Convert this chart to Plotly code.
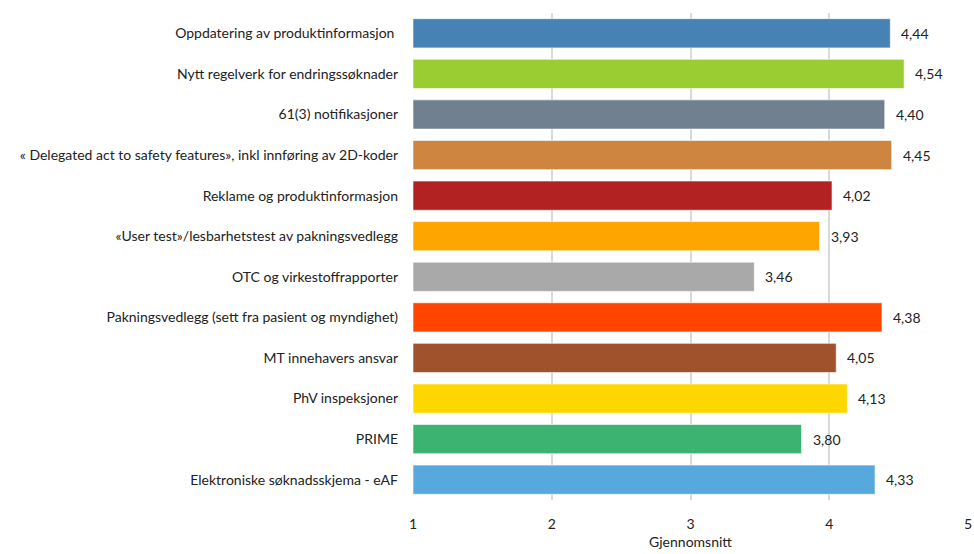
import plotly.graph_objects as go

categories = [
    "Oppdatering av produktinformasjon\u00a0",
    "Nytt regelverk for endringssøknader",
    "61(3) notifikasjoner",
    "« Delegated act to safety features», inkl innføring av 2D-koder",
    "Reklame og produktinformasjon",
    "«User test»/lesbarhetstest av pakningsvedlegg",
    "OTC og virkestoffrapporter",
    "Pakningsvedlegg (sett fra pasient og myndighet)",
    "MT innehavers ansvar",
    "PhV inspeksjoner",
    "PRIME",
    "Elektroniske søknadsskjema - eAF",
]
values = [4.44, 4.54, 4.40, 4.45, 4.02, 3.93, 3.46, 4.38, 4.05, 4.13, 3.80, 4.33]
colors = [
    "#4682B4", "#9ACD32", "#708090", "#CD853F", "#B22222", "#FFA500",
    "#A9A9A9", "#FF4500", "#A0522D", "#FFD700", "#3CB371", "#56A8DD",
]
tick_vals = [1, 2, 3, 4, 5]
x_title = "Gjennomsnitt"

labels = [f"{v:.2f}".replace(".", ",") for v in values]

fig = go.Figure(
    go.Bar(
        y=categories,
        x=[v - 1 for v in values],
        base=1,
        orientation="h",
        marker=dict(color=colors, line=dict(color="rgba(255,255,255,0.6)", width=1)),
        width=0.72,
        hoverinfo="skip",
    )
)

# value labels to the right of each bar
for cat, v, lab in zip(categories, values, labels):
    fig.add_annotation(
        x=v, y=cat, text=lab, showarrow=False,
        xanchor="left", xshift=9,
        font=dict(family="Lato", size=14, color="#222222"),
    )

fig.update_layout(
    width=974,
    height=554,
    margin=dict(l=413, r=6, t=13, b=54, autoexpand=False),
    paper_bgcolor="white",
    plot_bgcolor="white",
    font=dict(family="Lato", size=14, color="#222222"),
    showlegend=False,
    bargap=0.28,
)
fig.update_xaxes(
    range=[1, 5],
    tickvals=tick_vals,
    showgrid=True,
    gridcolor="#D9D9D9",
    gridwidth=1.5,
    zeroline=False,
    showline=False,
    ticks="",
    ticklabelstandoff=14,
    tickfont=dict(size=14),
    title=dict(text=x_title, font=dict(size=14), standoff=6),
)
fig.update_yaxes(
    autorange="reversed",
    showgrid=False,
    showline=False,
    ticks="",
    ticklabelstandoff=14,
    tickfont=dict(size=14),
)

fig.write_html("out.html")
